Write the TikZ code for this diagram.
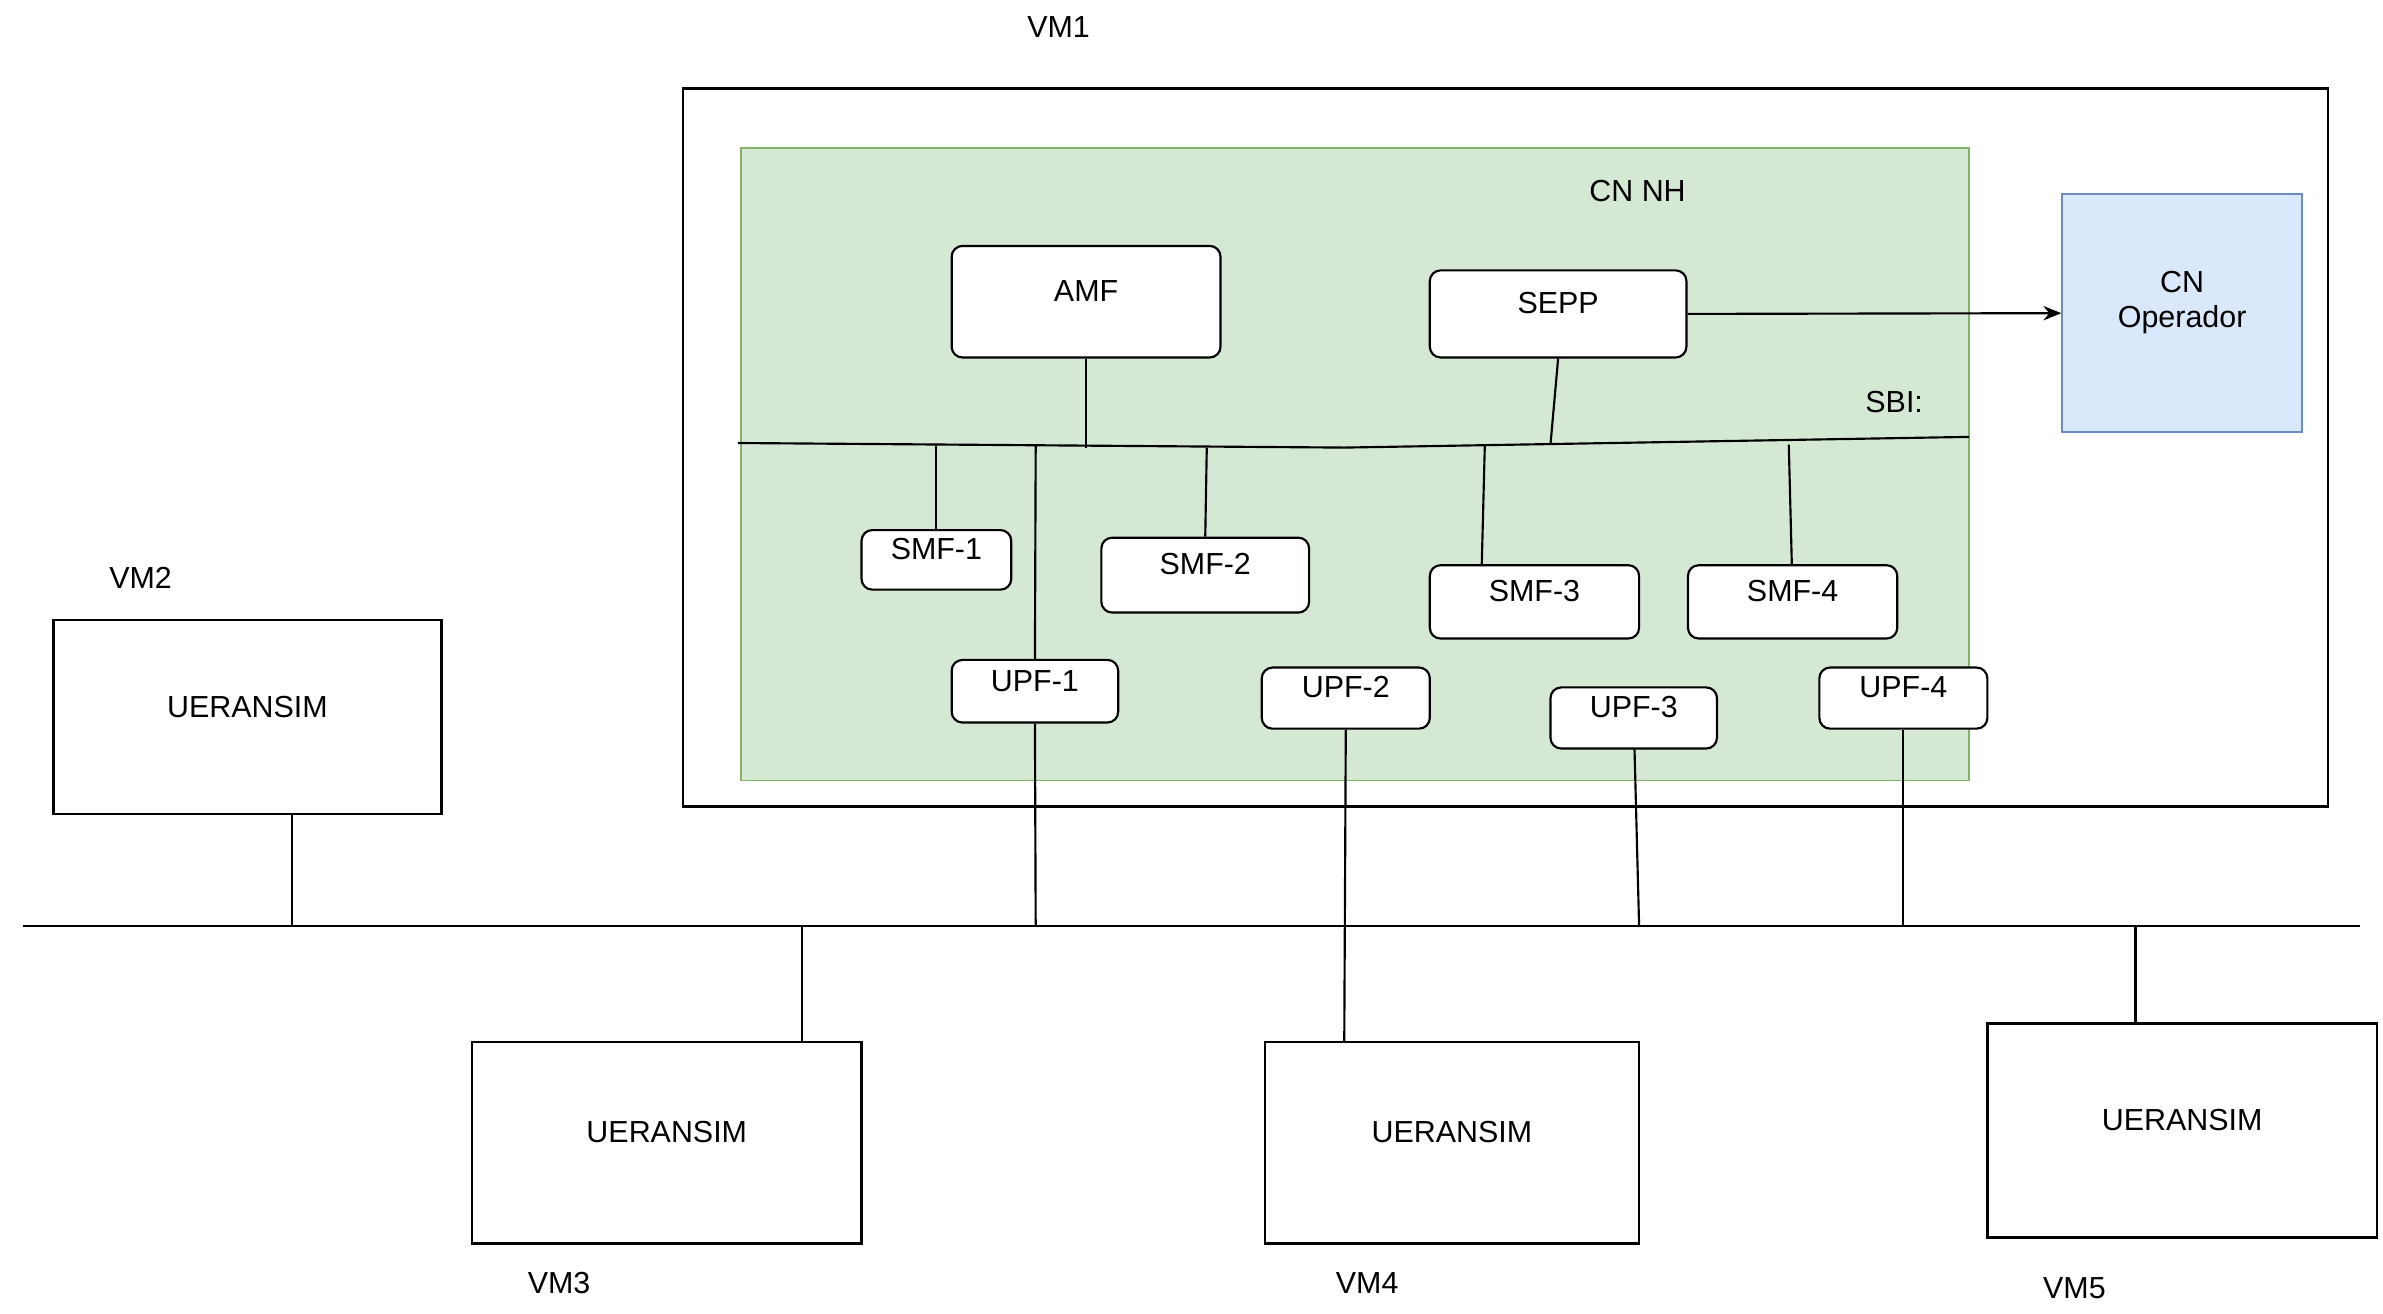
\documentclass[tikz,border=0pt]{standalone}
\usepackage{fontspec}
\setmainfont{Liberation Sans}
\usetikzlibrary{fit,arrows.meta}
\definecolor{gfill}{HTML}{D5E8D4}\definecolor{gdraw}{HTML}{82B366}
\definecolor{bfill}{HTML}{DAE8FC}\definecolor{bdraw}{HTML}{6C8EBF}
\begin{document}
\begin{tikzpicture}[x=0.03cm,y=-0.03cm,font=\fontsize{17}{20}\selectfont,
  plain/.style={draw,line width=1.3pt,inner sep=0pt},
  rbox/.style={draw,line width=1.2pt,rounded corners=6pt,inner sep=0pt,fill=white},
  lbl/.style={inner sep=0pt},
  ln/.style={line width=1.2pt}]
\useasboundingbox (0,0) rectangle (1560,860);
\newcommand\bx[7]{\coordinate (#1a) at (#2,#3);\coordinate (#1b) at (#4,#5);
  \node[#6,fit=(#1a)(#1b)] (#1) {#7};}
\node[lbl] (vm1l) at (693,18) {VM1};
\bx{vm1}{447}{58}{1524}{528}{plain}{}
\bx{cnnh}{485}{97}{1289}{511}{draw=gdraw,fill=gfill,line width=1pt,inner sep=0pt}{}
\node[lbl] (cnnhl) at (1072,125) {CN NH};
\bx{cnop}{1350}{127}{1507}{283}{draw=bdraw,fill=bfill,line width=1pt,inner sep=0pt,align=center}{CN\\Operador}
\bx{amf}{623}{161}{799}{234}{rbox}{AMF}
\bx{sepp}{936}{177}{1104}{234}{rbox}{SEPP}
\draw[ln,-{Stealth[length=10pt,width=8pt]}] (sepp.east) -- (cnop.west);
\node[lbl] (sbil) at (1240,263) {SBI:};
\coordinate (s0) at (483,290); \coordinate (s1) at (880,293); \coordinate (s2) at (1289,286);
\draw[ln] (s0) -- (s1) -- (s2);
\bx{smf1}{564}{347}{662}{386}{rbox}{SMF-1}
\bx{smf2}{721}{352}{857}{401}{rbox}{SMF-2}
\bx{smf3}{936}{370}{1073}{418}{rbox}{SMF-3}
\bx{smf4}{1105}{370}{1242}{418}{rbox}{SMF-4}
\bx{upf1}{623}{432}{732}{473}{rbox}{UPF-1}
\bx{upf2}{826}{437}{936}{477}{rbox}{UPF-2}
\bx{upf3}{1015}{450}{1124}{490}{rbox}{UPF-3}
\bx{upf4}{1191}{437}{1301}{477}{rbox}{UPF-4}
\coordinate (a1) at (711,293); \draw[ln] (amf.south) -- (a1);
\coordinate (a2) at (1015,291); \draw[ln] (sepp.south) -- (a2);
\coordinate (m1) at (613,292); \draw[ln] (m1) -- (smf1.north);
\coordinate (m2) at (790,293); \draw[ln] (m2) -- (smf2.north);
\coordinate (m3) at (972,292); \draw[ln] (m3) -- (970,370);
\coordinate (m4) at (1171,291); \draw[ln] (m4) -- (1173,370);
\coordinate (u1) at (678,292); \draw[ln] (u1) -- (upf1.north);
% bottom bus
\coordinate (b0) at (15,606); \coordinate (b1) at (1545,606);
\draw[ln] (b0) -- (b1);
\node[lbl] (vm2l) at (92,378) {VM2};
\bx{vm2}{35}{406}{289}{533}{plain}{UERANSIM}
\bx{vm3}{309}{682}{564}{814}{plain}{UERANSIM}
\bx{vm4}{828}{682}{1073}{814}{plain}{UERANSIM}
\bx{vm5}{1301}{670}{1556}{810}{plain}{UERANSIM}
\node[lbl] (vm3l) at (366,840) {VM3};
\node[lbl] (vm4l) at (895,840) {VM4};
\node[lbl] (vm5l) at (1358,843) {VM5};
\draw[ln] (191,533) -- (191,606);
\draw[ln] (525,606) -- (525,682);
\draw[ln] (1398,606) -- (1398,670);
\draw[ln] (upf1.south) -- (678,606);
\draw[ln] (upf2.south) -- (880,682);
\draw[ln] (1070,490) -- (1073,606);
\draw[ln] (upf4.south) -- (1246,606);
\end{tikzpicture}
\end{document}
